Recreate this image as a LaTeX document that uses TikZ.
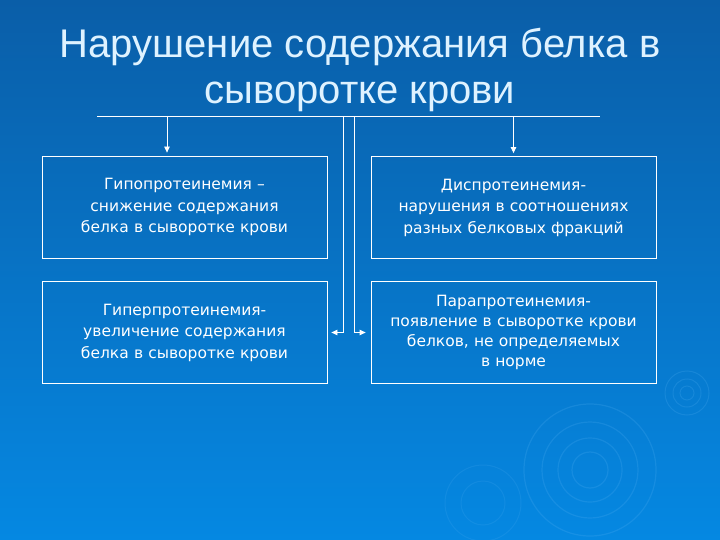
\documentclass[tikz,border=0pt]{standalone}
\usepackage{fontspec}
\setmainfont{Liberation Sans}
\newfontfamily\boxfont{DejaVu Sans}
\usetikzlibrary{arrows.meta}
\definecolor{bgtop}{RGB}{10,94,168}
\definecolor{bgbot}{RGB}{5,136,226}
\definecolor{titlecol}{RGB}{222,242,255}
\definecolor{ripple}{RGB}{90,180,245}
\tikzset{
	box/.style={draw=white, line width=0.8pt, minimum width=285pt, minimum height=102pt, inner sep=0pt, text width=275pt, align=center, text=white, font=\boxfont\fontsize{15.5}{21.5}\selectfont},
	link/.style={draw=white, line width=0.8pt},
	tip/.style={-{Triangle[length=6pt,width=5.5pt]}}
}
\begin{document}
\begin{tikzpicture}[x=1pt,y=-1pt]
			\shade[top color=bgtop, bottom color=bgbot] (0,0) rectangle (720,540);
			\useasboundingbox (0,0) rectangle (720,540);
			\draw [ripple, opacity=0.2, line width=1.2pt] (590,470) circle (18) (590,470) circle (32) (590,470) circle (48) (590,470) circle (66);
			\draw [ripple, opacity=0.2, line width=1pt] (687,393) circle (7) (687,393) circle (14) (687,393) circle (22);
			\draw [ripple, opacity=0.15, line width=1pt] (483,503) circle (22) (483,503) circle (38);
			\node [text=titlecol, align=center, font=\fontsize{40}{46}\selectfont] (title) at (360,70) {Нарушение содержания белка в\\сыворотке крови};
			\node [box] (hypo) at (184.5,207) {Гипопротеинемия –\\снижение содержания\\белка в сыворотке крови};
			\node [box] (dis) at (513.5,207.5) {Диспротеинемия-\\нарушения в соотношениях\\разных белковых фракций};
			\node [box] (hyper) at (184.5,332.5) {Гиперпротеинемия-\\увеличение содержания\\белка в сыворотке крови};
			\node [box, font=\boxfont\fontsize{15.5}{20}\selectfont] (para) at (513.5,332.5) {Парапротеинемия-\\появление в сыворотке крови\\белков, не определяемых\\в норме};
			\coordinate (lineL) at (97,116);
			\coordinate (lineR) at (600,116);
			\coordinate (downL) at (167,116);
			\coordinate (downR) at (513.5,116);
			\coordinate (sideL) at (343,116);
			\coordinate (sideR) at (354.5,116);
			\draw [link] (lineL) -- (lineR);
			\draw [link, tip, shorten >=3pt] (downL) -- (downL |- hypo.north);
			\draw [link, tip, shorten >=3pt] (downR) -- (downR |- dis.north);
			\draw [link, tip, shorten >=4pt] (sideL) |- (hyper.east);
			\draw [link, tip, shorten >=5pt] (sideR) |- (para.west);
		\end{tikzpicture}
\end{document}
